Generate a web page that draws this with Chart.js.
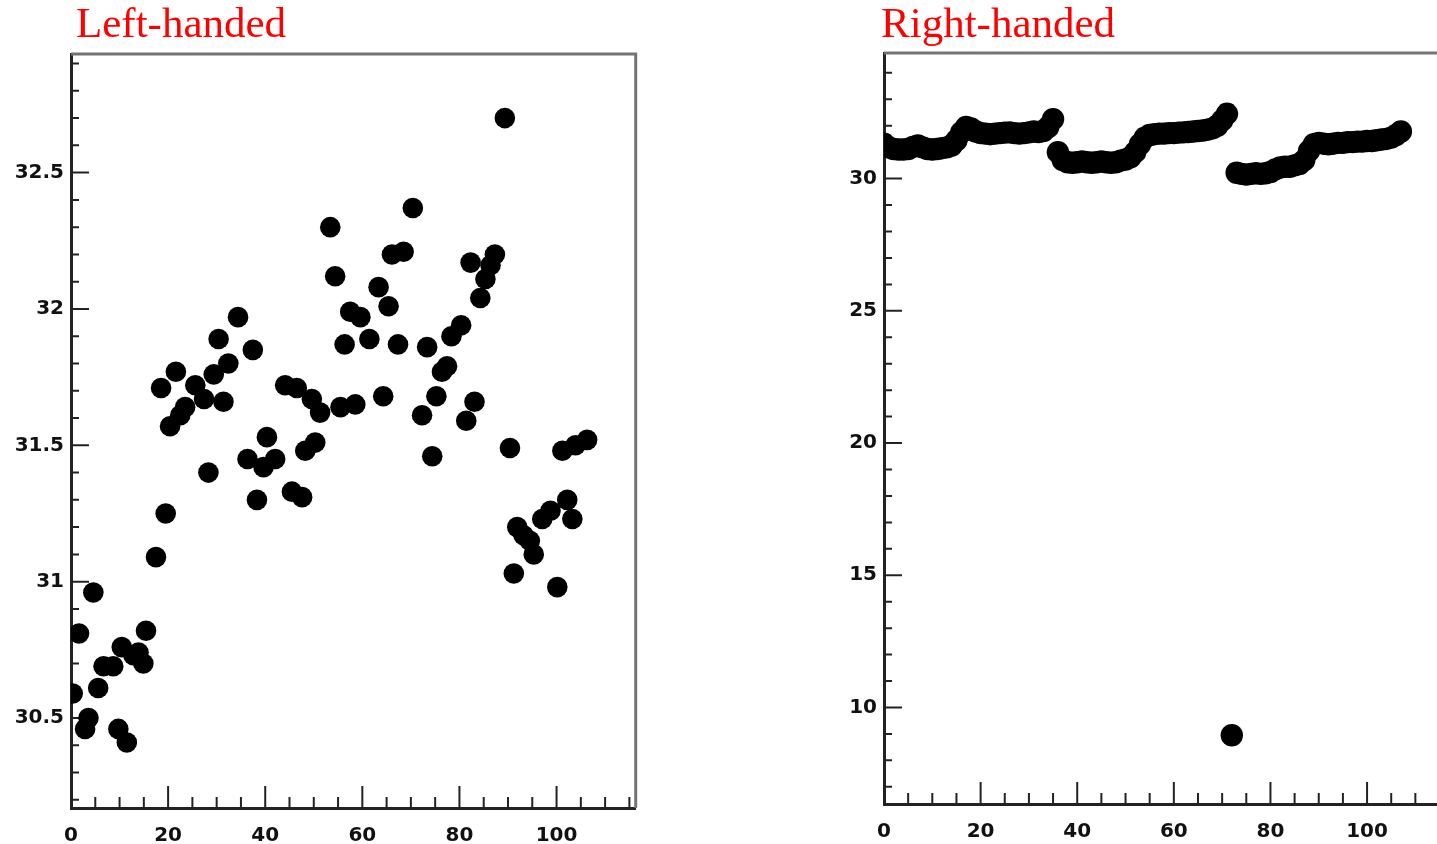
<!DOCTYPE html>
<html>
<head>
<meta charset="utf-8">
<title>Left-handed / Right-handed</title>
<script src="https://cdn.jsdelivr.net/npm/chart.js@4.4.1/dist/chart.umd.min.js"></script>
<style>
html, body { margin: 0; padding: 0; background: #fff; overflow: hidden; width: 1437px; height: 844px; }
canvas { position: absolute; top: 0; }
.title { position: absolute; top: 2px; font-family: 'Liberation Serif', 'Times New Roman', serif;
         font-size: 43px; line-height: 42px; color: #f00; white-space: nowrap; }
</style>
</head>
<body>
<canvas id="leftChart" width="646" height="844" style="left:0"></canvas>
<canvas id="rightChart" width="637" height="844" style="left:820px"></canvas>
<div class="title" style="left:76px">Left-handed</div>
<div class="title" style="left:881px">Right-handed</div>
<script>
// left panel
var leftX = [0.35,1.65,2.9,3.6,4.6,5.6,6.7,8.7,9.75,10.45,
    11.5,12.85,13.9,14.9,15.45,17.5,18.55,19.5,20.4,21.6,
    22.5,23.5,25.6,27.4,28.3,29.4,30.4,31.4,32.4,34.4,
    36.35,37.45,38.3,39.65,40.35,42.05,44.1,45.5,46.5,47.6,
    48.25,49.6,50.3,51.3,53.4,54.4,55.5,56.35,57.5,58.55,
    59.6,61.45,63.35,64.3,65.4,66.1,67.35,68.5,70.4,72.3,
    73.35,74.4,75.25,76.4,77.45,78.35,80.35,81.4,82.3,83.1,
    84.3,85.35,86.4,87.3,89.35,90.4,91.2,91.9,93.2,94.5,
    95.3,97.05,98.75,100.15,101.2,102.2,103.25,103.9,106.3];
var leftY = [30.59,30.81,30.46,30.50,30.96,30.61,30.69,30.69,30.46,30.76,
    30.41,30.73,30.74,30.70,30.82,31.09,31.71,31.25,31.57,31.77,
    31.61,31.64,31.72,31.67,31.40,31.76,31.89,31.66,31.80,31.97,
    31.45,31.85,31.30,31.42,31.53,31.45,31.72,31.33,31.71,31.31,
    31.48,31.67,31.51,31.62,32.30,32.12,31.64,31.87,31.99,31.65,
    31.97,31.89,32.08,31.68,32.01,32.20,31.87,32.21,32.37,31.61,
    31.86,31.46,31.68,31.77,31.79,31.90,31.94,31.59,32.17,31.66,
    32.04,32.11,32.16,32.20,32.70,31.49,31.03,31.20,31.17,31.15,
    31.10,31.23,31.26,30.98,31.48,31.30,31.23,31.50,31.52];

// right panel, one value per index 0..107
var rightY = [31.32,31.18,31.12,31.1,31.1,31.12,31.2,31.25,31.18,31.12,
    31.1,31.12,31.15,31.18,31.25,31.45,31.75,31.95,31.9,31.78,
    31.72,31.7,31.68,31.7,31.72,31.74,31.75,31.72,31.7,31.72,
    31.75,31.78,31.76,31.8,31.95,32.25,
    31.0,30.7,30.62,30.6,30.62,30.65,30.62,30.6,30.62,30.65,
    30.62,30.6,30.62,30.68,30.72,30.8,31.0,31.3,31.55,31.65,
    31.68,31.7,31.7,31.72,31.72,31.74,31.75,31.76,31.78,31.8,
    31.82,31.85,31.9,32.0,32.2,32.45,
    8.95,
    30.22,30.18,30.15,30.18,30.2,30.18,30.2,30.25,30.35,30.42,
    30.45,30.45,30.5,30.55,30.7,31.05,31.3,31.35,31.32,31.3,
    31.32,31.35,31.35,31.38,31.38,31.4,31.4,31.42,31.42,31.45,
    31.48,31.5,31.55,31.65,31.78];

// tick labels
var xTicks = [0, 20, 40, 60, 80, 100];
var leftYTicks = [30.5, 31, 31.5, 32, 32.5];
var rightYTicks = [10, 15, 20, 25, 30];

function steps(from, to, step) {
    var out = [];
    for (var v = from; v <= to + 1e-9; v += step) out.push(Math.round(v * 100) / 100);
    return out;
}

// inward tick marks and the grey top/right frame
var axisDecor = {
    id: 'axisDecor',
    beforeDatasetsDraw: function(chart, args, o) {
        var ctx = chart.ctx, a = chart.chartArea;
        var sx = chart.scales.x, sy = chart.scales.y;
        ctx.save();
        ctx.strokeStyle = '#747474';
        ctx.lineWidth = 3;
        ctx.beginPath();
        ctx.moveTo(a.left, a.top);
        ctx.lineTo(a.right, a.top);
        ctx.lineTo(a.right, a.bottom);
        ctx.stroke();

        ctx.strokeStyle = '#222';
        ctx.lineWidth = 2;
        ctx.beginPath();
        o.xMinor.forEach(function(v) {
            var p = sx.getPixelForValue(v), len = o.xMajor.indexOf(v) >= 0 ? 22 : 11;
            ctx.moveTo(p, a.bottom);
            ctx.lineTo(p, a.bottom - len);
        });
        o.yMinor.forEach(function(v) {
            var p = sy.getPixelForValue(v), len = o.yMajor.indexOf(v) >= 0 ? 18 : 8;
            ctx.moveTo(a.left, p);
            ctx.lineTo(a.left + len, p);
        });
        ctx.stroke();
        ctx.restore();
    }
};

function makeChart(id, points, radius, yMin, yMax, yTicks, yMinor, leftW, topPad, bottomH, rightPad) {
    var tickFont = { family: "'DejaVu Sans', Verdana, sans-serif", size: 20, weight: 'bold' };
    return new Chart(document.getElementById(id).getContext('2d'), {
        type: 'scatter',
        data: {
            datasets: [{
                data: points,
                pointRadius: radius,
                pointBackgroundColor: '#000',
                pointBorderWidth: 0
            }]
        },
        options: {
            responsive: false,
            animation: false,
            events: [],
            layout: { padding: { top: topPad, right: rightPad, left: 0, bottom: 0 } },
            plugins: {
                legend: { display: false },
                tooltip: { enabled: false },
                axisDecor: {
                    xMajor: xTicks,
                    xMinor: steps(5, 115, 5),
                    yMajor: yTicks,
                    yMinor: yMinor
                }
            },
            scales: {
                x: {
                    type: 'linear', min: 0, max: 116.3,
                    afterBuildTicks: function(s) { s.ticks = xTicks.map(function(v) { return { value: v }; }); },
                    afterFit: function(s) { s.height = bottomH; },
                    grid: { display: true, drawOnChartArea: false, drawTicks: false },
                    border: { display: true, color: '#222', width: 3 },
                    ticks: { font: tickFont, color: '#111', padding: 16, maxRotation: 0,
                             callback: function(v) { return String(v); } }
                },
                y: {
                    type: 'linear', min: yMin, max: yMax,
                    afterBuildTicks: function(s) { s.ticks = yTicks.map(function(v) { return { value: v }; }); },
                    afterFit: function(s) { s.width = leftW; },
                    grid: { display: true, drawOnChartArea: false, drawTicks: false },
                    border: { display: true, color: '#222', width: 3 },
                    ticks: { font: tickFont, color: '#111', padding: 7,
                             callback: function(v) { return String(v); } }
                }
            }
        },
        plugins: [axisDecor]
    });
}

var leftPoints = leftX.map(function(x, i) { return { x: x, y: leftY[i] }; });
var rightPoints = rightY.map(function(y, i) { return { x: i, y: y }; });

makeChart('leftChart', leftPoints, 10.3, 30.17, 32.935, leftYTicks, steps(30.2, 32.9, 0.1), 71, 54, 36, 4);
makeChart('rightChart', rightPoints, 11.2, 6.35, 34.75, rightYTicks, steps(7, 34, 1), 64, 53, 40, 0);
</script>
</body>
</html>
